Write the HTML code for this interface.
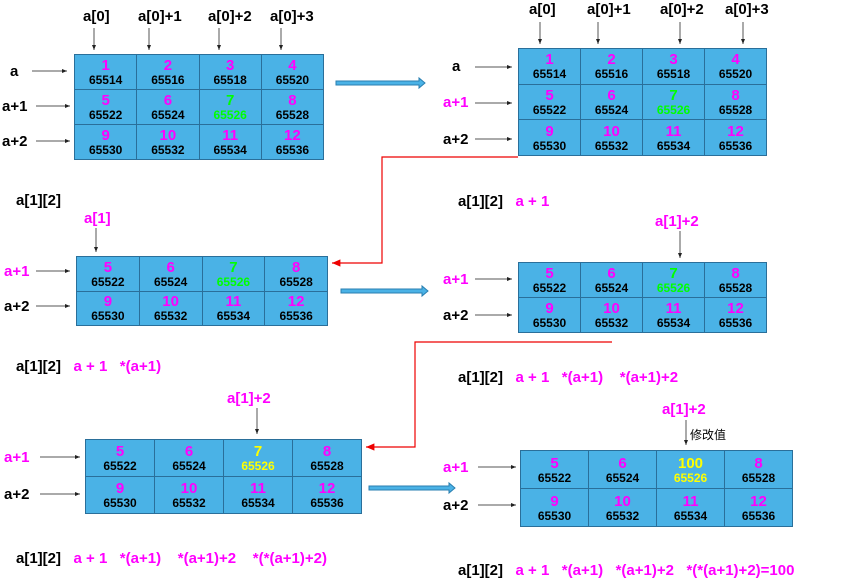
<!DOCTYPE html><html><head><meta charset="utf-8"><style>
body{margin:0;width:846px;height:586px;background:#fff;position:relative;overflow:hidden;font-family:"Liberation Sans","Noto Sans CJK SC",sans-serif;font-weight:bold}
.t{position:absolute;border-collapse:collapse;background:#4ab2e6;table-layout:fixed}
.t td{border:1px solid #2a6f9a;text-align:center;padding:0;line-height:1;vertical-align:middle}
.t b{display:block;color:#f0f;font-size:15px}
.t i{display:block;font-style:normal;color:#000;font-size:12px;margin-top:1px}
.l{position:absolute;font-size:15px;color:#000;white-space:pre}
.m{color:#f0f}
svg{position:absolute;left:0;top:0}
</style></head><body>
<svg width="846" height="586">
<defs><marker id="k" markerWidth="6" markerHeight="6" refX="5" refY="3" orient="auto"><path d="M0,1 L5,3 L0,5z" fill="#222"/></marker>
<marker id="r" markerWidth="8" markerHeight="8" refX="7" refY="4" orient="auto"><path d="M0,1 L7,4 L0,7z" fill="#e00"/></marker></defs>
<g stroke="#555" stroke-width="1" marker-end="url(#k)">
<line x1="94" y1="28" x2="94" y2="50"/><line x1="149" y1="28" x2="149" y2="50"/><line x1="219" y1="28" x2="219" y2="50"/><line x1="281" y1="28" x2="281" y2="50"/>
<line x1="32" y1="71" x2="67" y2="71"/><line x1="36" y1="106" x2="70" y2="106"/><line x1="36" y1="141" x2="70" y2="141"/>
<line x1="540" y1="22" x2="540" y2="44"/><line x1="598" y1="22" x2="598" y2="44"/><line x1="680" y1="22" x2="680" y2="44"/><line x1="743" y1="22" x2="743" y2="44"/>
<line x1="475" y1="67" x2="512" y2="67"/><line x1="475" y1="103" x2="512" y2="103"/><line x1="475" y1="139" x2="512" y2="139"/>
<line x1="96" y1="228" x2="96" y2="252"/><line x1="36" y1="271" x2="70" y2="271"/><line x1="36" y1="306" x2="70" y2="306"/>
<line x1="680" y1="231" x2="680" y2="258"/><line x1="475" y1="279" x2="512" y2="279"/><line x1="475" y1="315" x2="512" y2="315"/>
<line x1="257" y1="408" x2="257" y2="434"/><line x1="40" y1="457" x2="80" y2="457"/><line x1="40" y1="494" x2="80" y2="494"/>
<line x1="686" y1="420" x2="686" y2="445"/><line x1="478" y1="467" x2="516" y2="467"/><line x1="478" y1="505" x2="516" y2="505"/>
</g>
<g fill="none" stroke="#e00" stroke-width="1.2">
<polyline points="518,157 382,157 382,263 332,263" marker-end="url(#r)"/>
<polyline points="612,342 415,342 415,447 366,447" marker-end="url(#r)"/>
</g>
<g fill="#4ab2e6" stroke="#2a7fb0" stroke-width="1">
<path d="M336,81 H419 V78 L425,83 L419,88 V85 H336z"/>
<path d="M341,289 H422 V286 L428,291 L422,296 V293 H341z"/>
<path d="M369,486 H449 V483 L455,488 L449,493 V490 H369z"/>
</g>
</svg>

<table class="t" style="left:74px;top:54px;width:250px;height:106px"><tr><td><b>1</b><i>65514</i></td><td><b>2</b><i>65516</i></td><td><b>3</b><i>65518</i></td><td><b>4</b><i>65520</i></td></tr><tr><td><b>5</b><i>65522</i></td><td><b>6</b><i>65524</i></td><td><b style="color:#0f0">7</b><i style="color:#0f0">65526</i></td><td><b>8</b><i>65528</i></td></tr><tr><td><b>9</b><i>65530</i></td><td><b>10</b><i>65532</i></td><td><b>11</b><i>65534</i></td><td><b>12</b><i>65536</i></td></tr></table>

<table class="t" style="left:518px;top:48px;width:249px;height:108px"><tr><td><b>1</b><i>65514</i></td><td><b>2</b><i>65516</i></td><td><b>3</b><i>65518</i></td><td><b>4</b><i>65520</i></td></tr><tr><td><b>5</b><i>65522</i></td><td><b>6</b><i>65524</i></td><td><b style="color:#0f0">7</b><i style="color:#0f0">65526</i></td><td><b>8</b><i>65528</i></td></tr><tr><td><b>9</b><i>65530</i></td><td><b>10</b><i>65532</i></td><td><b>11</b><i>65534</i></td><td><b>12</b><i>65536</i></td></tr></table>

<table class="t" style="left:76px;top:256px;width:252px;height:70px"><tr><td><b>5</b><i>65522</i></td><td><b>6</b><i>65524</i></td><td><b style="color:#0f0">7</b><i style="color:#0f0">65526</i></td><td><b>8</b><i>65528</i></td></tr><tr><td><b>9</b><i>65530</i></td><td><b>10</b><i>65532</i></td><td><b>11</b><i>65534</i></td><td><b>12</b><i>65536</i></td></tr></table>

<table class="t" style="left:518px;top:262px;width:249px;height:71px"><tr><td><b>5</b><i>65522</i></td><td><b>6</b><i>65524</i></td><td><b style="color:#0f0">7</b><i style="color:#0f0">65526</i></td><td><b>8</b><i>65528</i></td></tr><tr><td><b>9</b><i>65530</i></td><td><b>10</b><i>65532</i></td><td><b>11</b><i>65534</i></td><td><b>12</b><i>65536</i></td></tr></table>

<table class="t" style="left:85px;top:439px;width:277px;height:75px"><tr><td><b>5</b><i>65522</i></td><td><b>6</b><i>65524</i></td><td><b style="color:#ff0">7</b><i style="color:#ff0">65526</i></td><td><b>8</b><i>65528</i></td></tr><tr><td><b>9</b><i>65530</i></td><td><b>10</b><i>65532</i></td><td><b>11</b><i>65534</i></td><td><b>12</b><i>65536</i></td></tr></table>

<table class="t" style="left:520px;top:450px;width:273px;height:77px"><tr><td><b>5</b><i>65522</i></td><td><b>6</b><i>65524</i></td><td><b style="color:#ff0">100</b><i style="color:#ff0">65526</i></td><td><b>8</b><i>65528</i></td></tr><tr><td><b>9</b><i>65530</i></td><td><b>10</b><i>65532</i></td><td><b>11</b><i>65534</i></td><td><b>12</b><i>65536</i></td></tr></table>

<div class="l" style="left:83px;top:8px">a[0]</div><div class="l" style="left:138px;top:8px">a[0]+1</div><div class="l" style="left:208px;top:8px">a[0]+2</div><div class="l" style="left:270px;top:8px">a[0]+3</div>
<div class="l" style="left:10px;top:63px">a</div><div class="l" style="left:2px;top:98px">a+1</div><div class="l" style="left:2px;top:133px">a+2</div>
<div class="l" style="left:529px;top:1px">a[0]</div><div class="l" style="left:587px;top:1px">a[0]+1</div><div class="l" style="left:660px;top:1px">a[0]+2</div><div class="l" style="left:725px;top:1px">a[0]+3</div>
<div class="l" style="left:452px;top:58px">a</div><div class="l m" style="left:443px;top:94px">a+1</div><div class="l" style="left:443px;top:131px">a+2</div>
<div class="l" style="left:16px;top:192px">a[1][2]</div>
<div class="l" style="left:458px;top:193px">a[1][2]   <span class="m">a + 1</span></div>
<div class="l m" style="left:84px;top:210px">a[1]</div>
<div class="l m" style="left:4px;top:263px">a+1</div><div class="l" style="left:4px;top:298px">a+2</div>
<div class="l m" style="left:655px;top:213px">a[1]+2</div>
<div class="l m" style="left:443px;top:271px">a+1</div><div class="l" style="left:443px;top:307px">a+2</div>
<div class="l" style="left:16px;top:358px">a[1][2]   <span class="m">a + 1   *(a+1)</span></div>
<div class="l" style="left:458px;top:369px">a[1][2]   <span class="m">a + 1   *(a+1)    *(a+1)+2</span></div>
<div class="l m" style="left:227px;top:390px">a[1]+2</div>
<div class="l m" style="left:4px;top:449px">a+1</div><div class="l" style="left:4px;top:486px">a+2</div>
<div class="l m" style="left:662px;top:401px">a[1]+2</div>
<div class="l" style="left:690px;top:426px;font-size:12px;font-weight:normal">修改值</div>
<div class="l m" style="left:443px;top:459px">a+1</div><div class="l" style="left:443px;top:497px">a+2</div>
<div class="l" style="left:16px;top:550px">a[1][2]   <span class="m">a + 1   *(a+1)    *(a+1)+2    *(*(a+1)+2)</span></div>
<div class="l" style="left:458px;top:562px">a[1][2]   <span class="m">a + 1   *(a+1)   *(a+1)+2   *(*(a+1)+2)=100</span></div>
</body></html>
